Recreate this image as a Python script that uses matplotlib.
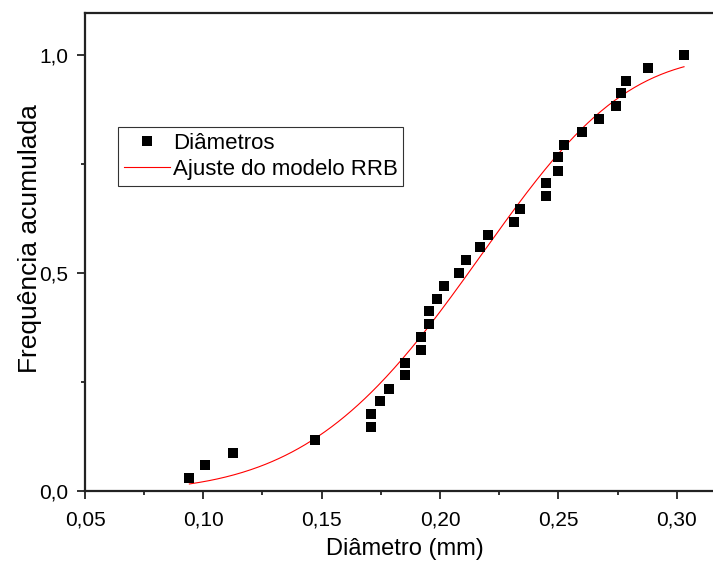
import numpy as np
from matplotlib import pyplot as plt

# measured diameters (mm) and their cumulative frequency
diametros = [0.0941, 0.1005, 0.1125, 0.1470, 0.1710, 0.1710, 0.1748, 0.1783,
             0.1854, 0.1854, 0.1921, 0.1921, 0.1952, 0.1952, 0.1986, 0.2017,
             0.2081, 0.2110, 0.2171, 0.2201, 0.2313, 0.2339, 0.2449, 0.2449,
             0.2500, 0.2500, 0.2526, 0.2598, 0.2671, 0.2743, 0.2766, 0.2787,
             0.2880, 0.3031]
freq_acum = [0.029, 0.059, 0.088, 0.118, 0.147, 0.176, 0.206, 0.235,
             0.265, 0.294, 0.324, 0.353, 0.382, 0.412, 0.441, 0.471,
             0.500, 0.529, 0.559, 0.588, 0.618, 0.647, 0.676, 0.706,
             0.735, 0.765, 0.794, 0.824, 0.853, 0.882, 0.912, 0.941,
             0.971, 1.000]

# RRB (Rosin-Rammler-Bennett) fit parameters
D_rrb = 0.2295
n_rrb = 4.62

x_ticks = [0.05, 0.10, 0.15, 0.20, 0.25, 0.30]
x_ticklabels = ["0,05", "0,10", "0,15", "0,20", "0,25", "0,30"]
y_ticks = [0.0, 0.5, 1.0]
y_ticklabels = ["0,0", "0,5", "1,0"]

plt.rcParams['font.family'] = ['Liberation Sans', 'DejaVu Sans']

fig = plt.figure(figsize=(7.13, 5.64), dpi=100)
ax = fig.add_axes([85 / 713, 73 / 564, 639 / 713, 478.3 / 564])

x_fit = np.linspace(min(diametros), max(diametros), 300)
y_fit = 1 - np.exp(-(x_fit / D_rrb) ** n_rrb)

ax.plot(diametros, freq_acum, 's', color='black', markersize=7.3,
        markeredgewidth=0, label='Diâmetros', zorder=3)
ax.plot(x_fit, y_fit, '-', color='#ff0000', linewidth=0.8,
        label='Ajuste do modelo RRB', zorder=2)

ax.set_xlim(0.05, 0.32)
ax.set_ylim(0.0, 1.097)

ax.set_xticks(x_ticks)
ax.set_xticklabels(x_ticklabels)
ax.set_xticks(np.arange(0.075, 0.32, 0.05), minor=True)
ax.set_yticks(y_ticks)
ax.set_yticklabels(y_ticklabels)
ax.set_yticks([0.25, 0.75], minor=True)

ax.tick_params(which='major', direction='out', length=6, width=1.3,
               labelsize=15, color='#222222')
ax.tick_params(axis='x', which='major', pad=8)
ax.tick_params(axis='y', which='major', pad=6)
ax.tick_params(which='minor', direction='out', length=3, width=1.3,
               color='#222222')
for side in ['left', 'bottom', 'top', 'right']:
    ax.spines[side].set_linewidth(1.6)
    ax.spines[side].set_color('#222222')

ax.set_xlabel('Diâmetro (mm)', fontsize=17)
ax.set_ylabel('Frequência acumulada', fontsize=19)
ax.xaxis.set_label_coords(0.5, -0.098)
ax.yaxis.set_label_coords(-0.068, 0.527)

leg = ax.legend(loc='upper left', bbox_to_anchor=(118 / 713, 1 - 127 / 564),
                bbox_transform=fig.transFigure, fontsize=16, frameon=True,
                fancybox=False, edgecolor='black', borderpad=0.25,
                handlelength=2.1, handletextpad=0.12, labelspacing=0.25,
                borderaxespad=0)
leg.get_frame().set_linewidth(0.8)

plt.savefig('out.png', dpi=100)
plt.close()
